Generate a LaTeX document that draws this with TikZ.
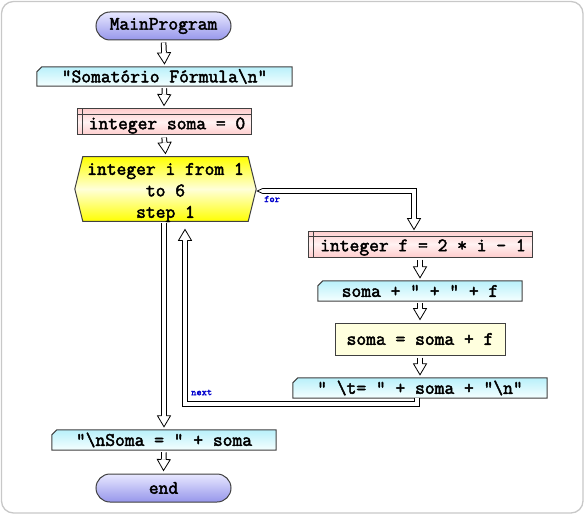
\documentclass[tikz,border=0pt]{standalone}
\usepackage{fontspec}
\newfontfamily\cmono{Latin Modern Mono}[AutoFakeBold=2.4]
\usetikzlibrary{shapes.misc,decorations.markings,backgrounds,calc}
\definecolor{bd}{RGB}{64,64,64}
\definecolor{pillTop}{RGB}{232,232,255}
\definecolor{pillBot}{RGB}{150,150,235}
\definecolor{cyTop}{RGB}{185,240,250}
\definecolor{cyBot}{RGB}{245,255,255}
\definecolor{pk}{RGB}{255,205,205}
\definecolor{pkMid}{RGB}{255,242,242}
\definecolor{yl}{RGB}{255,255,0}
\definecolor{procc}{RGB}{255,255,222}
\definecolor{framec}{RGB}{200,200,200}
\definecolor{lblc}{RGB}{0,0,204}
\newcommand\fhead{%
  \fill[white,shorten >=0pt,shorten <=0pt] (0,0) -- (-11pt,6.5pt) -- (-11pt,-6.5pt) -- cycle;
  \draw[black,line width=0.8pt,line join=miter,shorten >=0pt,shorten <=0pt]
    (-11pt,2.3pt) -- (-11pt,6.5pt) -- (0,0) -- (-11pt,-6.5pt) -- (-11pt,-2.3pt);}
\newcommand\ftail{%
  \fill[white,shorten >=0pt,shorten <=0pt] (0,0) -- (5pt,2.8pt) -- (5pt,-2.8pt) -- cycle;
  \draw[black,line width=0.8pt,shorten >=0pt,shorten <=0pt]
    (5pt,2.3pt) -- (0,0) -- (5pt,-2.3pt);}
\newcommand\pinktxt[1]{\hspace*{6pt}\raisebox{-3.5pt}[\height][\depth]{#1}}
\tikzset{
  txt/.style={font=\cmono\bfseries\fontsize{19}{21.5}\selectfont, text=black, inner sep=0pt},
  pill/.style={txt, rounded rectangle, draw=bd, line width=1pt, top color=pillTop, bottom color=pillBot,
    minimum width=135pt, minimum height=28pt},
  plainbox/.style={txt, rectangle},
  pinkbox/.style={txt, rectangle, draw=bd, line width=1pt, top color=pk, bottom color=pk, middle color=pkMid},
  procbox/.style={txt, rectangle, draw=bd, line width=1pt, fill=procc},
  outbox/.style={draw=bd, line width=1pt, top color=cyTop, bottom color=cyBot},
  hexbox/.style={draw=bd, line width=1pt, top color=yl, bottom color=yl, middle color=white!85!yl},
  lbl/.style={font=\cmono\bfseries\fontsize{10}{11}\selectfont, text=lblc, inner sep=0pt},
  flow/.style={draw=black, line width=5.6pt, shorten >=11pt, shorten <=2pt,
    postaction={draw=white, line width=3.6pt},
    postaction={decorate, decoration={markings, mark=at position 1 with {\fhead}}}},
  tailed/.style={shorten <=5pt,
    postaction={decorate, decoration={markings, mark=at position 0 with {\ftail}}}}
}
\newcommand\chamf[1]{\path[outbox] ([yshift=-5pt]#1.north west) -- ([xshift=5pt]#1.north west) -- (#1.north east) -- (#1.south east) -- (#1.south west) -- cycle;}
\newcommand\stripes[1]{\draw[bd,line width=1pt] ([yshift=-6pt]#1.north west) -- ([yshift=-6pt]#1.north east);
  \draw[bd,line width=1pt] ([xshift=6pt]#1.north west) -- ([xshift=6pt]#1.south west);}
\begin{document}
\begin{tikzpicture}[x=1pt,y=-1pt]
\useasboundingbox (0,0) rectangle (586,516);
% nodes
\node[pill] (main) at (163.5,26) {MainProgram};
\node[plainbox, minimum width=255pt, minimum height=19pt] (out1) at (164.5,76.5) {"Somatório Fórmula\textbackslash n"};
\node[pinkbox, minimum width=174pt, minimum height=26pt] (soma0) at (164,122) {\pinktxt{integer soma = 0}};
\node[plainbox, minimum width=181pt, minimum height=64pt] (hex) at (165.5,189)
  {\raisebox{-3pt}[\height][\depth]{\begin{tabular}{@{}c@{}}integer i from 1\\to 6\\step 1\end{tabular}}};
\node[pinkbox, minimum width=224pt, minimum height=26pt] (f) at (420,244) {\pinktxt{integer f = 2 * i - 1}};
\node[plainbox, minimum width=204pt, minimum height=20pt] (out2) at (420,291) {soma + " + " + f};
\node[procbox, minimum width=170pt, minimum height=32pt] (proc) at (420,339) {soma = soma + f};
\node[plainbox, minimum width=254pt, minimum height=20pt] (out3) at (420,388) {" \textbackslash t= " + soma + "\textbackslash n"};
\node[plainbox, minimum width=224pt, minimum height=20pt] (out4) at (164,440) {"\textbackslash nSoma = " + soma};
\node[pill] (endn) at (163.5,488) {end};
\node[lbl, anchor=west] (forlbl) at (264,199) {for};
\node[lbl, anchor=west] (nextlbl) at (191,392.5) {next};
% backgrounds
\begin{scope}[on background layer]
  \draw[framec, line width=1.3pt, rounded corners=12pt] (1.5,1.5) rectangle (583,513);
  \chamf{out1}
  \chamf{out2}
  \chamf{out3}
  \chamf{out4}
  \path[hexbox] (hex.west) -- ([xshift=8pt]hex.north west) -- ([xshift=-8pt]hex.north east) -- (hex.east)
     -- ([xshift=-8pt]hex.south east) -- ([xshift=8pt]hex.south west) -- cycle;
\end{scope}
\stripes{soma0}
\stripes{f}
% connectors
\draw[flow] (main.south) -- ([yshift=3pt]out1.north);
\draw[flow] (out1.south) -- ([yshift=3pt]soma0.north);
\draw[flow] (soma0.south) -- ([yshift=3pt]hex.north);
\draw[flow, tailed] ([xshift=1pt,yshift=-2pt]hex.east) -| ([xshift=-6pt,yshift=1pt]f.north);
\draw[flow] (f.south) -- ([yshift=3pt]out2.north);
\draw[flow] (out2.south) -- ([yshift=3pt]proc.north);
\draw[flow] (proc.south) -- ([yshift=3pt]out3.north);
\draw[flow, shorten <=0pt] ([xshift=-3pt]out3.south) -- ++(0,6) -| ([xshift=19.5pt,yshift=-8pt]hex.south);
\draw[flow] (hex.south -| out4.north) -- ([yshift=3pt]out4.north);
\draw[flow] (out4.south) -- ([yshift=3pt]endn.north);
\end{tikzpicture}
\end{document}
